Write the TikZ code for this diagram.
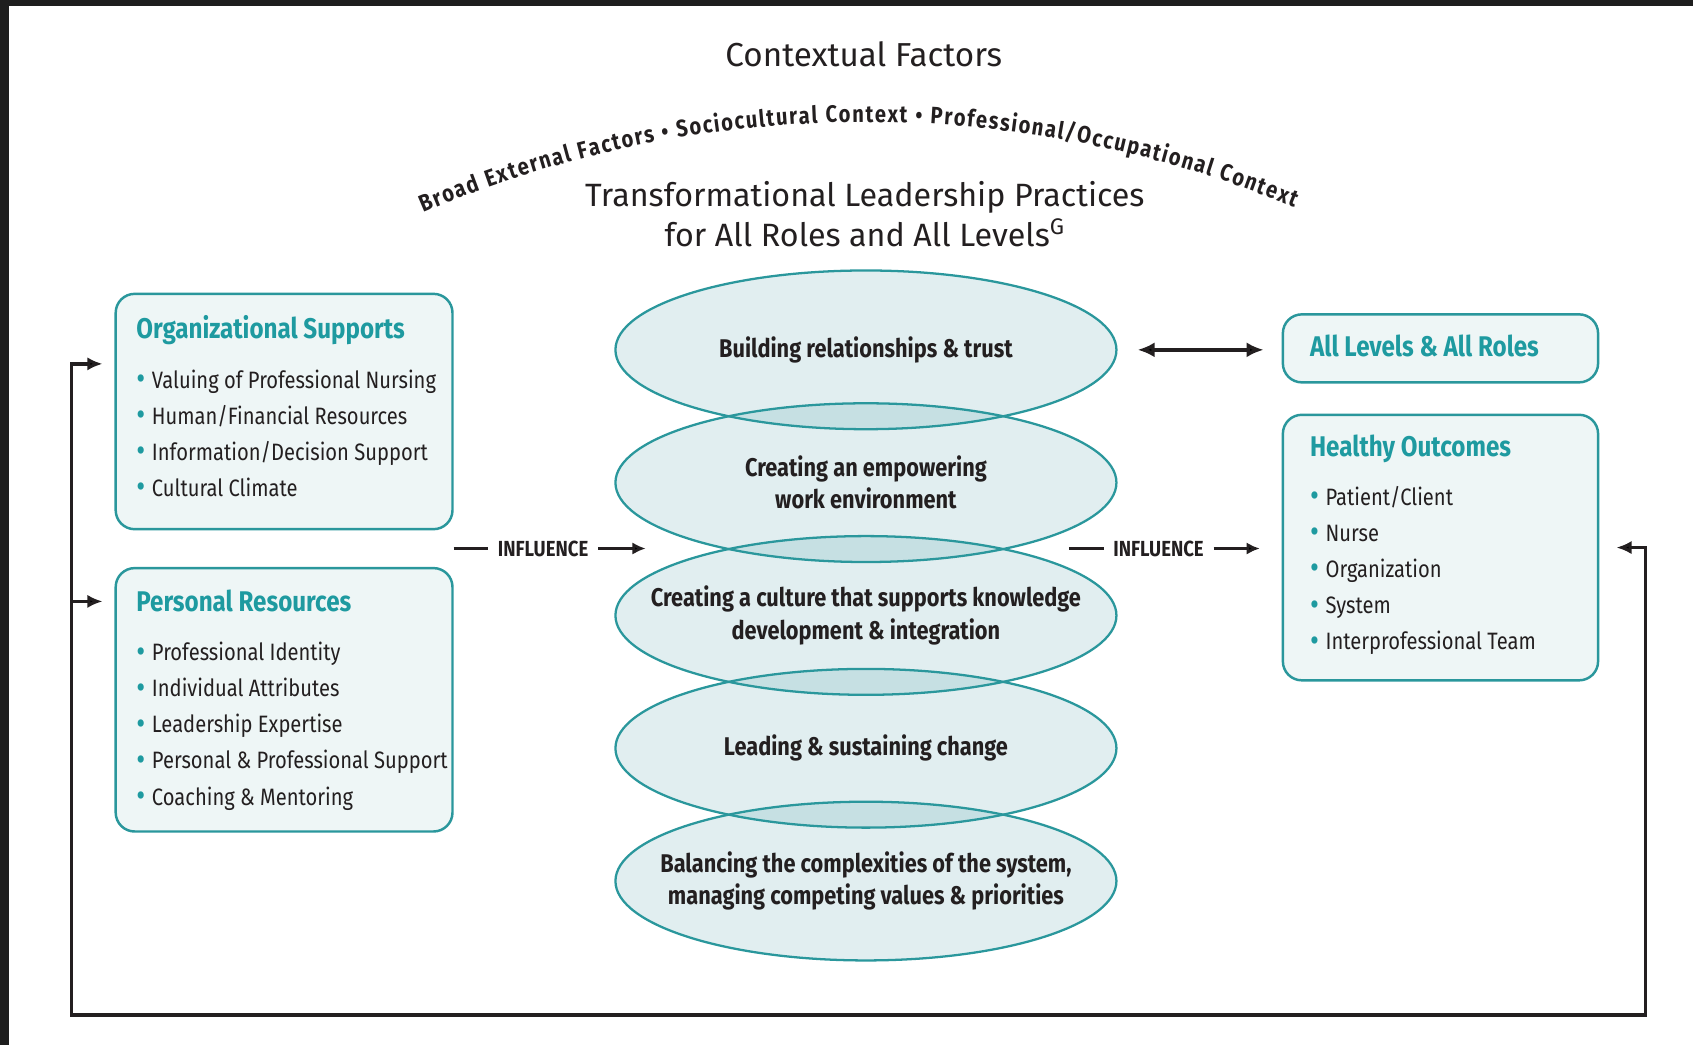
\documentclass[tikz,border=0pt]{standalone}
\usepackage{fontspec}
\setmainfont{Fira Sans}
\newfontfamily\condfont[FakeStretch=0.85]{Fira Sans}
\usetikzlibrary{arrows.meta,shapes.geometric,decorations.text}

\definecolor{tealline}{HTML}{2A979C}
\definecolor{tealtext}{HTML}{1E9AA0}
\definecolor{boxfill}{HTML}{EEF6F6}
\definecolor{ovalfill}{HTML}{E1EEF0}
\definecolor{lensfill}{HTML}{C6E0E3}
\definecolor{ink}{HTML}{231F20}
\definecolor{edgeband}{HTML}{1E1E1E}

\pgfdeclarelayer{back}
\pgfsetlayers{back,main}

\newcommand{\bul}[1]{{\color{tealtext}\fontsize{17}{19}\selectfont\raisebox{-0.8pt}{•}}\hspace{3.5pt}#1}
\newcommand{\paneltitle}[1]{{\color{tealtext}\bfseries\fontsize{15}{19}\selectfont #1}}
\newcommand{\arcfont}{\condfont\bfseries\fontsize{12.5}{14}\selectfont}

\tikzset{
    panel/.style={draw=tealline, line width=1.3pt, fill=boxfill, rounded corners=10pt, anchor=north west, inner sep=0pt},
    oval/.style={ellipse, minimum width=9.28cm, minimum height=2.94cm, inner sep=0pt, align=center, text=ink, font=\condfont\bfseries\fontsize{13.5}{17}\selectfont},
    rim/.style={draw=tealline, line width=1.2pt},
    listtxt/.style={anchor=north west, inner sep=0pt, align=left, text=ink, font=\condfont\fontsize{12.5}{19}\selectfont},
    infltxt/.style={text=ink, inner xsep=5pt, font=\condfont\bfseries\fontsize{11.5}{13}\selectfont},
    infl/.style={draw=ink, line width=1.4pt},
    feedback/.style={draw=ink, line width=1.8pt},
    infltip/.tip={Latex[length=7pt,width=6.5pt]},
    fbtip/.tip={Latex[length=8pt,width=7pt]},
    bitip/.tip={Latex[length=9pt,width=8pt]}
}

\begin{document}
\begin{tikzpicture}[x=0.02cm, y=-0.02cm]
    \useasboundingbox (0,0) rectangle (1568,968);
    \fill[edgeband] (0,0) rectangle (1568,6);
    \fill[edgeband] (0,0) rectangle (8,968);

    \node[text=ink, font=\fontsize{17.5}{21}\selectfont] (ctx) at (800,50) {Contextual Factors};
    \coordinate (arcC) at (801.5,1152);
    \path[decorate, decoration={text along path, text align={fit to path}, text color=ink,
        text={|\arcfont|Broad External Factors • Sociocultural Context • Professional/Occupational Context}}]
        (arcC) ++(-113.2:1039) arc[start angle=-113.2, end angle=-67.6, radius=1039];
    \node[text=ink, align=center, font=\fontsize{17}{21}\selectfont] (tlp) at (801,198)
        {Transformational Leadership Practices\\for All Roles and All Levels\textsuperscript{G}};

    % practices
    \node[oval] (e1) at (802,324) {Building relationships \& trust};
    \node[oval] (e2) at (802,447) {Creating an empowering\\work environment};
    \node[oval] (e3) at (802,570) {Creating a culture that supports knowledge\\development \& integration};
    \node[oval] (e4) at (802,693) {Leading \& sustaining change};
    \node[oval] (e5) at (802,816) {Balancing the complexities of the system,\\managing competing values \& priorities};
    \begin{pgfonlayer}{back}
        \foreach \k in {1,...,5}
            \fill[ovalfill] (e\k.center) ellipse [x radius=232, y radius=73.5];
        \foreach \a/\b in {e1/e2, e2/e3, e3/e4, e4/e5} {
            \begin{scope}
                \clip (\a.center) ellipse [x radius=232, y radius=73.5];
                \fill[lensfill] (\b.center) ellipse [x radius=232, y radius=73.5];
            \end{scope}
        }
    \end{pgfonlayer}
    \foreach \k in {1,...,5}
        \draw[rim] (e\k.center) ellipse [x radius=232, y radius=73.5];

    % left side
    \node[panel, minimum width=6.24cm, minimum height=4.36cm] (org) at (106,271) {};
    \node[listtxt] (orgtxt) at (126,292) {\paneltitle{Organizational Supports}\\[7pt]
        \bul{Valuing of Professional Nursing}\\ \bul{Human/Financial Resources}\\
        \bul{Information/Decision Support}\\ \bul{Cultural Climate}};
    \node[panel, minimum width=6.24cm, minimum height=4.88cm] (per) at (106,525) {};
    \node[listtxt] (pertxt) at (126,546) {\paneltitle{Personal Resources}\\[7pt]
        \bul{Professional Identity}\\ \bul{Individual Attributes}\\ \bul{Leadership Expertise}\\
        \bul{Personal \& Professional Support}\\ \bul{Coaching \& Mentoring}};

    % right side
    \node[panel, minimum width=5.84cm, minimum height=1.26cm] (lvl) at (1187,290) {};
    \node[listtxt] (lvltxt) at (1213,310) {\paneltitle{All Levels \& All Roles}};
    \node[panel, minimum width=5.84cm, minimum height=4.92cm] (hlt) at (1187,383) {};
    \node[listtxt] (hlttxt) at (1213,402) {\paneltitle{Healthy Outcomes}\\[7pt]
        \bul{Patient/Client}\\ \bul{Nurse}\\ \bul{Organization}\\ \bul{System}\\
        \bul{Interprofessional Team}};

    \draw[line width=2.2pt, draw=ink, {bitip}-{bitip}, shorten <=11pt, shorten >=9.5pt]
        (e1.east) -- (e1.east -| lvl.west);

    \node[infltxt] (infl1) at (503,508) {INFLUENCE};
    \node[infltxt] (infl2) at (1073,508) {INFLUENCE};
    \coordinate (infl1end) at (598,508);
    \coordinate (infl2start) at (990,508);
    \draw[infl] (org.east |- infl1) -- (infl1.west);
    \draw[infl, -{infltip}] (infl1.east) -- (infl1end);
    \draw[infl] (infl2start) -- (infl2.west);
    \draw[infl, -{infltip}, shorten >=11.5pt] (infl2.east) -- (infl2 -| hlt.west);

    % feedback loop
    \coordinate (loopL) at (66,940);
    \coordinate (orgin) at (95,337);
    \coordinate (perin) at (95,557);
    \draw[feedback, {fbtip}-{fbtip}] ([xshift=9pt]hlt.east) -- ++(27,0) |- (loopL) |- (orgin);
    \draw[feedback, -{fbtip}] (loopL |- perin) -- (perin);
\end{tikzpicture}
\end{document}
